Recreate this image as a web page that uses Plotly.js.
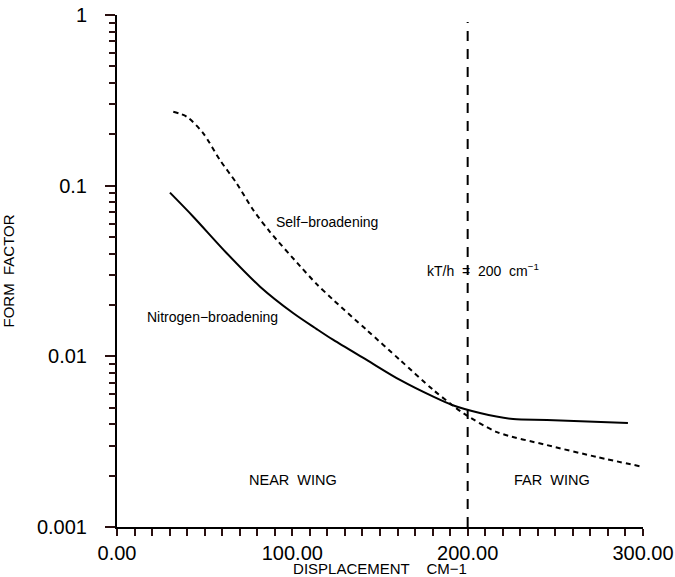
<!DOCTYPE html>
<html>
<head>
<meta charset="utf-8">
<script src="https://cdn.plot.ly/plotly-3.0.1.min.js"></script>
<style>html,body{margin:0;padding:0;background:#fff;}#chart{width:675px;height:577px;}</style>
</head>
<body>
<div id="chart"></div>
<script>
// Self-broadening (dashed)
var selfX = [32.1, 39.8, 49.2, 58.7, 68.3, 77.7, 87.3, 104.4, 113.9, 123.4, 142.4, 161.4, 180.4, 191.1, 197.3, 216.7, 245.2, 273.8, 300.0];
var selfY = [0.2713, 0.2535, 0.2026, 0.1414, 0.1030, 0.0720, 0.0535, 0.0338, 0.0265, 0.0214, 0.01427, 0.00952, 0.00635, 0.00519, 0.00466, 0.00360, 0.00302, 0.00257, 0.00225];
// Nitrogen-broadening (solid)
var nitroX = [30.2, 43.5, 62.6, 81.6, 100.6, 113.9, 123.4, 142.4, 161.4, 180.4, 191.1, 207.0, 225.9, 245.2, 291.4];
var nitroY = [0.0910, 0.0658, 0.0402, 0.0256, 0.01788, 0.01445, 0.01247, 0.00952, 0.00727, 0.00580, 0.00519, 0.00466, 0.00429, 0.00424, 0.00407];
// kT/h marker line
var vlineX = [200, 200];
var vlineY = [0.001, 0.91];

var xTickVals = [0,10,20,30,40,50,60,70,80,90,100,110,120,130,140,150,160,170,180,190,200,210,220,230,240,250,260,270,280,290,300];
var xTickText = ['0.00','','','','','','','','','','100.00','','','','','','','','','','200.00','','','','','','','','','','300.00'];
var yTickVals = [0.001, 0.01, 0.1, 1];
var yTickText = ['0.001', '0.01', '0.1', '1'];
var yMinorVals = [0.002,0.003,0.004,0.005,0.006,0.007,0.008,0.009,
                  0.02,0.03,0.04,0.05,0.06,0.07,0.08,0.09,
                  0.2,0.3,0.4,0.5,0.6,0.7,0.8,0.9];

var FONT = '"Liberation Sans", Arial, Helvetica, sans-serif';
var INK = '#2a1010';

var traces = [
  {x: selfX, y: selfY, mode: 'lines', line: {color: '#000', width: 2, dash: '5px,4px', shape: 'spline', smoothing: 0.8}, hoverinfo: 'skip'},
  {x: nitroX, y: nitroY, mode: 'lines', line: {color: '#000', width: 2, shape: 'spline', smoothing: 0.8}, hoverinfo: 'skip'},
  {x: vlineX, y: vlineY, mode: 'lines', line: {color: '#000', width: 2, dash: '10px,8px'}, hoverinfo: 'skip'},
  {x: vlineX, y: vlineY, xaxis: 'x', yaxis: 'y2', mode: 'lines', line: {color: 'rgba(0,0,0,0)', width: 0}, hoverinfo: 'skip'}
];

var annFont = {family: FONT, size: 14, color: '#000'};
var layout = {
  width: 675, height: 577,
  margin: {l: 117, r: 32, t: 15, b: 50},
  paper_bgcolor: '#fff', plot_bgcolor: '#fff',
  showlegend: false,
  font: {family: FONT, color: '#000'},
  xaxis: {
    range: [0, 300], showgrid: false, zeroline: false,
    showline: true, linecolor: '#000', linewidth: 2,
    tickmode: 'array', tickvals: xTickVals, ticktext: xTickText,
    ticks: 'outside', ticklen: 7, tickwidth: 2, tickcolor: INK,
    tickfont: {family: FONT, size: 20, color: '#000'},
    title: {text: 'DISPLACEMENT\u00a0\u00a0\u00a0\u00a0CM\u22121', font: {family: FONT, size: 15, color: '#000'}, standoff: 2}
  },
  yaxis: {
    type: 'log', range: [-3, 0], showgrid: false, zeroline: false,
    showline: true, linecolor: '#000', linewidth: 2,
    tickmode: 'array', tickvals: yTickVals, ticktext: yTickText,
    ticks: 'outside', ticklen: 10, tickwidth: 2, tickcolor: INK,
    ticklabelstandoff: 14,
    tickfont: {family: FONT, size: 20, color: '#000'},
    title: {text: 'FORM\u00a0\u00a0FACTOR', font: {family: FONT, size: 15, color: '#000'}, standoff: 20}
  },
  yaxis2: {
    type: 'log', range: [-3, 0], overlaying: 'y', anchor: 'x', side: 'left',
    showgrid: false, zeroline: false, showline: false, showticklabels: false,
    tickmode: 'array', tickvals: yMinorVals,
    ticks: 'outside', ticklen: 7, tickwidth: 2, tickcolor: INK
  },
  annotations: [
    {x: 119.5, y: -1.213, xref: 'x', yref: 'y', text: 'Self\u2212broadening', showarrow: false, font: annFont},
    {x: 54.5, y: -1.770, xref: 'x', yref: 'y', text: 'Nitrogen\u2212broadening', showarrow: false, font: annFont},
    {x: 208.7, y: -1.494, xref: 'x', yref: 'y', text: 'kT/h\u00a0\u00a0=\u00a0\u00a0200\u00a0\u00a0cm<sup>\u22121</sup>', showarrow: false, font: annFont},
    {x: 100.5, y: -2.7246, xref: 'x', yref: 'y', text: 'NEAR\u00a0\u00a0WING', showarrow: false, font: {family: FONT, size: 14.5, color: '#000'}},
    {x: 248, y: -2.7246, xref: 'x', yref: 'y', text: 'FAR\u00a0\u00a0WING', showarrow: false, font: {family: FONT, size: 14.5, color: '#000'}}
  ]
};

Plotly.newPlot('chart', traces, layout, {staticPlot: true, displayModeBar: false});
</script>
</body>
</html>
